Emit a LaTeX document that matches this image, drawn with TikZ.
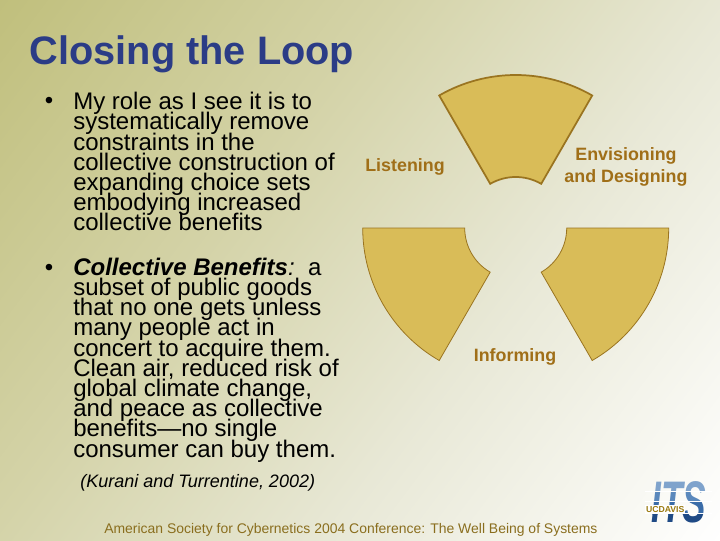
\documentclass[tikz,border=0pt]{standalone}
\usepackage{fontspec}
\setmainfont{Liberation Sans}
\lineskiplimit=-20pt
\definecolor{bgA}{HTML}{C0BF7C}
\definecolor{bgB}{HTML}{D4D3A8}
\definecolor{bgC}{HTML}{E8E8D6}
\definecolor{bgD}{HTML}{FFFFFF}
\definecolor{titleblue}{HTML}{2B3C86}
\definecolor{sectorfill}{HTML}{D9BC58}
\definecolor{sectorline}{HTML}{9A7420}
\definecolor{labelbrown}{HTML}{A06F18}
\definecolor{footbrown}{HTML}{8A6E1E}
\definecolor{itsgold}{HTML}{9A7A10}
\pgfdeclarehorizontalshading{bgshade}{690bp}{color(0bp)=(bgA); color(236bp)=(bgB); color(439bp)=(bgC); color(675bp)=(bgD)}
\tikzset{
  sector/.style={draw=sectorline,fill=sectorfill,line width=0.6pt,line join=miter},
  bodytext/.style={anchor=north west,align=left,inner sep=0pt,text=black,font=\fontsize{18}{15.15}\selectfont},
  bulletmark/.style={anchor=base,inner sep=0pt,text=black,font=\fontsize{18}{18}\selectfont},
  wheellabel/.style={inner sep=0pt,align=center,text=labelbrown,font=\fontsize{13.4}{16.5}\selectfont\bfseries},
}
\begin{document}
\begin{tikzpicture}[x=0.75pt,y=0.75pt]
\useasboundingbox (0,0) rectangle (720,540);
\clip (0,0) rectangle (720,540);
% background
\node[rotate=-37,inner sep=0pt] (bg) at (360,270) {\pgfuseshading{bgshade}};
% title
\node[anchor=base west,inner sep=0pt,text=titleblue,font=\fontsize{29.8}{30}\selectfont\bfseries] (title) at (29.5,475.5) {Closing the Loop};
% bullets
\node[bulletmark] (b1) at (49,431) {•};
\node[bodytext] (t1) at (73,448) {My role as I see it is to\\systematically remove\\constraints in the\\collective construction of\\expanding choice sets\\embodying increased\\collective benefits};
\node[bulletmark] (b2) at (49,265) {•};
\node[bodytext] (t2) at (73,282.3) {\textbf{\textit{Collective Benefits}}\textit{:}\ \ a\\subset of public goods\\that no one gets unless\\many people act in\\concert to acquire them.\\Clean air, reduced risk of\\global climate change,\\and peace as collective\\benefits—no single\\consumer can buy them.};
\node[anchor=base west,inner sep=0pt,font=\fontsize{13.5}{15}\selectfont\itshape] (cite) at (80,53) {(Kurani and Turrentine, 2002)};
% wheel
\coordinate (c) at (515.7,312);
\draw[sector,line width=1.3pt] ([shift={(60:51)}]c) -- ([shift={(60:153)}]c) arc[start angle=60,end angle=120,radius=153] -- ([shift={(120:51)}]c) arc[start angle=120,end angle=60,radius=51] -- cycle;
\draw[sector] ([shift={(180:51)}]c) -- ([shift={(180:153)}]c) arc[start angle=180,end angle=240,radius=153] -- ([shift={(240:51)}]c) arc[start angle=240,end angle=180,radius=51] -- cycle;
\draw[sector] ([shift={(300:51)}]c) -- ([shift={(300:153)}]c) arc[start angle=300,end angle=360,radius=153] -- ([shift={(0:51)}]c) arc[start angle=0,end angle=-60,radius=51] -- cycle;
\node[wheellabel] (listen) at (405,373.5) {Listening};
\node[wheellabel] (envis) at (626,373.2) {Envisioning\\and Designing};
\node[wheellabel] (inform) at (515,183) {Informing};
% footer
\node[anchor=base west,inner sep=0pt,text=footbrown,font=\fontsize{10.46}{13}\selectfont] (foot) at (104,7) {American Society for Cybernetics 2004 Conference: The Well Being of Systems};
% logo
\foreach \ya/\yb/\cl in {62/49/7FA3CC,49/38/5A88BC,38/26/3A6CA8,26/5/1F4A85}{
  \begin{scope}
    \clip (640,\yb) rectangle (715,\ya);
    \definecolor{itstmp}{HTML}{\cl}
    \node[anchor=base west,inner sep=0pt,text=itstmp,font=\fontsize{44}{44}\selectfont\bfseries\itshape] (logo\ya) at (651,18) {\scalebox{.6}[1]{ITS}};
  \end{scope}
}
\foreach \yy in {48,38,26}{\fill[white] (645,\yy) rectangle (712,\yy+1.5);}
\node[anchor=base west,inner sep=0.6pt,fill=white,text=itsgold,font=\fontsize{6.5}{8}\selectfont\bfseries] (uc) at (645,28) {UCDAVIS};
\end{tikzpicture}
\end{document}
